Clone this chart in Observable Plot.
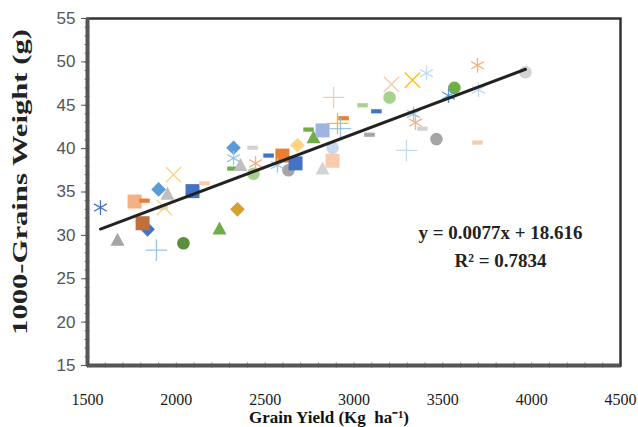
<!DOCTYPE html>
<html><head><meta charset="utf-8">
<script src="https://cdn.jsdelivr.net/npm/d3@7"></script>
<script src="https://cdn.jsdelivr.net/npm/@observablehq/plot@0.6"></script>
<style>html,body{margin:0;padding:0;background:#fff;} #chart svg{display:block;}</style>
</head><body><div id="chart"></div>
<script>
// ---- data ----
const grainYield = [
  1573, 1669, 1765, 1821, 1838, 1810,
  1888, 1900, 1950, 1922, 1933, 1984,
  2091, 2158, 2040, 2322, 2322, 2429,
  2316, 2361, 2446, 2434, 2519, 2569,
  2597, 2631, 2671, 2682, 2344, 2243,
  2744, 2772, 2823, 2879, 2879, 2823,
  2907, 2924, 2941, 2885, 3048, 3126,
  3087, 3200, 3211, 3329, 3335, 3346,
  3295, 3408, 3695, 3565, 3532, 3701,
  3965, 3464, 3695, 3385
];
const grainWeight = [
  33.2, 29.5, 33.9, 34.0, 30.7, 31.4,
  28.3, 35.3, 34.8, 33.2, 33.2, 37.0,
  35.1, 36.0, 29.1, 38.9, 40.1, 40.1,
  37.7, 38.1, 38.3, 37.1, 39.2, 38.1,
  39.2, 37.5, 38.3, 40.4, 33.0, 30.8,
  42.2, 41.3, 42.1, 40.1, 38.6, 37.7,
  42.9, 42.3, 43.5, 45.9, 45.0, 44.3,
  41.6, 45.9, 47.4, 47.9, 44.0, 43.0,
  39.8, 48.7, 49.6, 47.0, 46.1, 46.8,
  48.8, 41.1, 40.7, 42.3
];
const markerShape = [
  "asterisk", "triangle", "square", "dash", "diamond", "square",
  "plus", "diamond", "triangle", "dash", "times", "times",
  "square", "dash", "circle", "asterisk", "diamond", "dash",
  "dash", "triangle", "asterisk", "circle", "dash", "asterisk",
  "square", "circle", "square", "diamond", "diamond", "triangle",
  "dash", "triangle", "square", "circle", "square", "triangle",
  "plus", "plus", "dash", "plus", "dash", "dash",
  "dash", "circle", "times", "times", "asterisk", "asterisk",
  "plus", "asterisk", "asterisk", "circle", "asterisk", "asterisk",
  "circle", "circle", "dash", "dash"
];
const markerTone = [
  "blue", "gray", "salmon", "orange", "blue", "brown",
  "paleBlue", "lightBlue", "silver", "paleGray", "paleGold", "paleGold",
  "blue", "paleOrange", "darkGreen", "paleBlue", "lightBlue", "paleGray",
  "green", "silver", "salmon", "paleGreen", "blue", "paleBlue",
  "orange", "gray", "blue", "paleGold", "darkGold", "green",
  "green", "green", "periwinkle", "paleBlue2", "paleOrange", "paleGray",
  "gold", "paleBlue", "orange", "paleOrange", "paleGreen", "blue",
  "gray", "paleGreen", "paleOrange", "gold", "paleBlue", "salmon",
  "paleBlue2", "paleBlue2", "salmon", "green", "lightBlue", "paleBlue2",
  "paleGray", "gray", "paleOrange", "paleGray"
];
const xMajorTicks = [1500, 2000, 2500, 3000, 3500, 4000, 4500];
const yMajorTicks = [15, 20, 25, 30, 35, 40, 45, 50, 55];
const trendSlope = 0.0077;
const trendIntercept = 18.616;
const rSquared = "0.7834";
const xTitle = "Grain Yield (Kg  ha\u207B\u00B9)";
const yTitle = "1000-Grains Weight (g)";

// ---- styling ----
const toneColors = {
  blue: "#4472C4", gray: "#A5A5A5", salmon: "#F4B183", orange: "#ED7D31",
  brown: "#C0703A", paleBlue: "#9DC3E6", lightBlue: "#5B9BD5", silver: "#BFBFBF",
  paleGray: "#D3D3D3", paleGold: "#FFD37F", paleOrange: "#F8CBAD", darkGreen: "#5B8E3E",
  paleGreen: "#A9D18E", green: "#70AD47", darkGold: "#D4A22B", periwinkle: "#9EB5E0",
  paleBlue2: "#C5D9F1", gold: "#FFC000"
};
const H = s => Math.sqrt(s / Math.PI);
const symbols = {
  square: {draw(c, s) { const h = H(s); c.rect(-h, -h, 2 * h, 2 * h); }},
  diamond: {draw(c, s) { const h = H(s) * 1.05; c.moveTo(0, -h); c.lineTo(h, 0); c.lineTo(0, h); c.lineTo(-h, 0); c.closePath(); }},
  triangle: {draw(c, s) { const h = H(s); c.moveTo(0, -h); c.lineTo(h, h * 0.85); c.lineTo(-h, h * 0.85); c.closePath(); }},
  circle: {draw(c, s) { const h = H(s) * 0.9; c.moveTo(h, 0); c.arc(0, 0, h, 0, 2 * Math.PI); }},
  dash: {draw(c, s) { const h = H(s); c.rect(-h * 0.75, -h * 0.3, h * 1.5, h * 0.6); }},
  times: {draw(c, s) { const h = H(s) * 0.95; c.moveTo(-h, -h); c.lineTo(h, h); c.moveTo(-h, h); c.lineTo(h, -h); }},
  asterisk: {draw(c, s) { const h = H(s) * 0.95; c.moveTo(-h, -h); c.lineTo(h, h); c.moveTo(-h, h); c.lineTo(h, -h); c.moveTo(0, -h * 1.1); c.lineTo(0, h * 1.1); }},
  plus: {draw(c, s) { const h = H(s) * 0.9; c.moveTo(-h, 0); c.lineTo(h, 0); c.moveTo(0, -h); c.lineTo(0, h); }}
};
const strokedShapes = new Set(["times", "asterisk", "plus"]);

const points = grainYield.map((x, i) => ({x, y: grainWeight[i], shape: markerShape[i], tone: markerTone[i]}));
const filledPts = points.filter(d => !strokedShapes.has(d.shape));
const strokedPts = points.filter(d => strokedShapes.has(d.shape));
const xDomain = [xMajorTicks[0], xMajorTicks[xMajorTicks.length - 1]];
const yDomain = [yMajorTicks[0], yMajorTicks[yMajorTicks.length - 1]];
const xMinorTicks = d3.range(xDomain[0], xDomain[1] + 1, 100);
const yMinorTicks = d3.range(yDomain[0], yDomain[1] + 0.5, 1);
const trendPts = d3.extent(grainYield).map(x => ({x, y: trendSlope * x + trendIntercept}));
const shapeNames = Object.keys(symbols);
const toneNames = Object.keys(toneColors);

const serif = "Liberation Serif, Times New Roman, serif";
const sans = "Liberation Sans, Arial, sans-serif";

const svg = Plot.plot({
  width: 638, height: 427,
  marginLeft: 87, marginRight: 18, marginTop: 18, marginBottom: 62,
  x: {domain: xDomain},
  y: {domain: yDomain},
  symbol: {domain: shapeNames, range: shapeNames.map(n => symbols[n])},
  color: {type: "ordinal", domain: toneNames, range: toneNames.map(n => toneColors[n])},
  style: {background: "#fff"},
  marks: [
    Plot.axisY({ticks: yMinorTicks, tickSize: 5, dx: 2.5, tickFormat: () => "", color: "#777", label: null}),
    Plot.axisY({ticks: yMajorTicks, tickSize: 6, tickPadding: 6, fontSize: 17, fontFamily: sans, color: "#555", label: null}),
    Plot.axisX({ticks: xMinorTicks, tickSize: 5, dy: -2.5, tickFormat: () => "", color: "#777", label: null}),
    Plot.axisX({ticks: xMajorTicks, tickSize: 0, tickPadding: 28, tickFormat: "d", fontSize: 16, fontFamily: serif, color: "#1a1a1a", label: null}),
    Plot.frame({stroke: "#333", strokeWidth: 2.5}),
    Plot.ruleX([xDomain[0]], {stroke: "#555", strokeWidth: 4}),
    Plot.ruleY([yDomain[0]], {stroke: "#555", strokeWidth: 4}),
    Plot.dot(filledPts, {x: "x", y: "y", symbol: "shape", fill: "tone", r: 7, stroke: "none"}),
    Plot.dot(strokedPts, {x: "x", y: "y", symbol: "shape", stroke: "tone", r: 7, strokeWidth: 1.3, fill: "none"}),
    Plot.line(trendPts, {x: "x", y: "y", stroke: "#222", strokeWidth: 3}),
    Plot.text([`y = ${trendSlope}x + ${trendIntercept}\nR\u00B2 = ${rSquared}`], {
      text: d => d, frameAnchor: "right", dx: -120, dy: 52, lineHeight: 1.5,
      textAnchor: "middle", fontSize: 19, fontWeight: "bold", fontFamily: serif, fill: "#222"
    }),
    Plot.text([xTitle], {text: d => d, frameAnchor: "bottom", dx: -25, dy: 57,
      fontSize: 17, fontWeight: "bold", fontFamily: serif, fill: "#111"}),
    Plot.text([yTitle], {text: d => d, frameAnchor: "left", rotate: -90, dx: -67, dy: -10,
      textAnchor: "middle", lineAnchor: "middle",
      fontSize: 21, fontWeight: "bold", fontFamily: serif, fill: "#222", className: "ytitle"})
  ]
});
d3.select(svg).selectAll(".ytitle text").attr("transform", function() {
  return (this.getAttribute("transform") || "") + " scale(1.46,1)";
});
document.getElementById("chart").appendChild(svg);
</script></body></html>
